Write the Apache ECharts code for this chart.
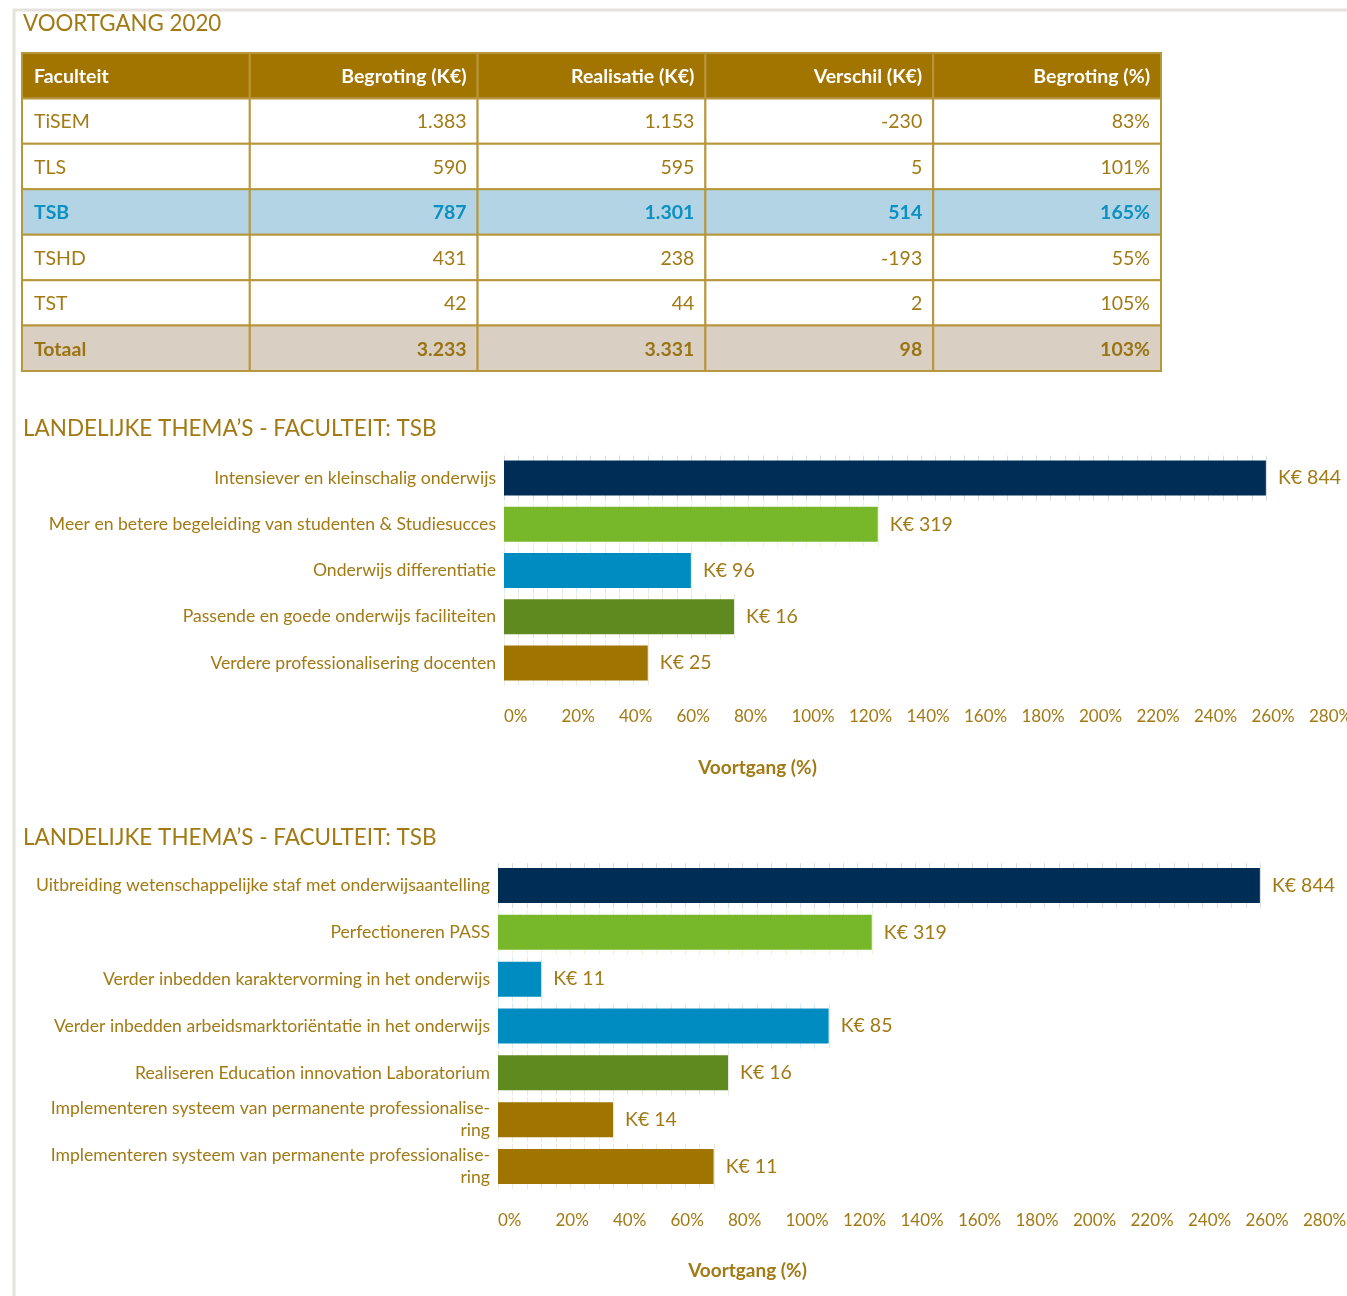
<!DOCTYPE html>
<html>
<head>
<meta charset="utf-8">
<title>Voortgang 2020</title>
<script src="https://cdn.jsdelivr.net/npm/echarts@6/dist/echarts.min.js"></script>
<style>
  html, body { margin: 0; padding: 0; background: #fff; }
  #chart { width: 1347px; height: 1296px; }
</style>
</head>
<body>
<div id="chart"></div>
<script>
// tabel voortgang 2020
const kolommen = ['Faculteit', 'Begroting (K€)', 'Realisatie (K€)', 'Verschil (K€)', 'Begroting (%)'];
const faculteiten = ['TiSEM', 'TLS', 'TSB', 'TSHD', 'TST', 'Totaal'];
const begroting = [1383, 590, 787, 431, 42, 3233];
const realisatie = [1153, 595, 1301, 238, 44, 3331];
const verschil = [-230, 5, 514, -193, 2, 98];
const begrotingPct = [83, 101, 165, 55, 105, 103];

// landelijke thema's (1)
const themas1 = [
  'Intensiever en kleinschalig onderwijs',
  'Meer en betere begeleiding van studenten & Studiesucces',
  'Onderwijs differentiatie',
  'Passende en goede onderwijs faciliteiten',
  'Verdere professionalisering docenten'
];
const voortgang1 = [265, 130, 65, 80, 50];
const bedrag1 = [844, 319, 96, 16, 25];

// landelijke thema's (2)
const themas2 = [
  'Uitbreiding wetenschappelijke staf met onderwijsaantelling',
  'Perfectioneren PASS',
  'Verder inbedden karaktervorming in het onderwijs',
  'Verder inbedden arbeidsmarktoriëntatie in het onderwijs',
  'Realiseren Education innovation Laboratorium',
  'Implementeren systeem van permanente professionalise-\nring',
  'Implementeren systeem van permanente professionalise-\nring'
];
const voortgang2 = [265, 130, 15, 115, 80, 40, 75];
const bedrag2 = [844, 319, 11, 85, 16, 14, 11];

const kleuren1 = ['#002d56', '#76b82a', '#008cc0', '#5f8a1f', '#a07400'];
const kleuren2 = ['#002d56', '#76b82a', '#008cc0', '#008cc0', '#5f8a1f', '#a07400', '#a07400'];

const GOUD = '#a27a14';
const FONT = 'Lato, "Open Sans", sans-serif';
const BALK = 35;

function fmt(n) {
  return String(n).replace(/\B(?=(\d{3})+(?!\d))/g, '.');
}

const rijen = [kolommen].concat(faculteiten.map((f, i) => [
  f, fmt(begroting[i]), fmt(realisatie[i]), fmt(verschil[i]), begrotingPct[i] + '%'
]));
const tabelData = [];
rijen.forEach((rij, r) => rij.forEach((tekst, c) => tabelData.push([c, r, tekst])));

const tsbRij = faculteiten.indexOf('TSB') + 1;
const totaalRij = rijen.length - 1;

function tekenCel(params, api) {
  const col = api.value(0);
  const row = api.value(1);
  const tekst = tabelData[params.dataIndex][2];
  const c = api.coord([col, row]);
  const s = api.size([1, 1]);
  const x = c[0] - s[0] / 2;
  const y = c[1] - s[1] / 2;

  let fill = '#fff', kleur = GOUD, gewicht = 'normal', grootte = 19.5;
  if (row === 0) { fill = '#a27500'; kleur = '#fff'; gewicht = 'bold'; grootte = 19.5; }
  else if (row === tsbRij) { fill = '#b3d4e4'; kleur = '#0a90c2'; gewicht = 'bold'; }
  else if (row === totaalRij) { fill = '#d9cfc3'; kleur = '#9a7413'; gewicht = 'bold'; }

  return {
    type: 'group',
    children: [
      {
        type: 'rect',
        shape: { x: x, y: y, width: s[0], height: s[1] },
        style: { fill: fill, stroke: '#b8963c', lineWidth: 2 }
      },
      {
        type: 'text',
        style: {
          text: tekst,
          x: col === 0 ? x + 12 : x + s[0] - 11,
          y: c[1] + 1,
          align: col === 0 ? 'left' : 'right',
          verticalAlign: 'middle',
          fill: kleur,
          fontSize: grootte,
          fontWeight: gewicht,
          fontFamily: FONT
        }
      }
    ]
  };
}

// fijne rasterlijntjes (elke 5%) alleen ter hoogte van de balk
function rasterRenderer(kleuren) {
  return function (params, api) {
    const v = api.value(0);
    const cat = api.value(1);
    const midden = api.coord([0, cat])[1];
    const y1 = midden - BALK / 2 - 5;
    const y2 = midden + BALK / 2 + 5;
    const stappen = [];
    for (let t = 0; t < v; t += 5) stappen.push(t);
    stappen.push(v);
    const lijnen = stappen.map(t => {
      const x = Math.round(api.coord([t, cat])[0]) + 0.5;
      return {
        type: 'line',
        shape: { x1: x, y1: y1, x2: x, y2: y2 },
        style: { stroke: kleuren[params.dataIndex], opacity: 0.16, lineWidth: 1 }
      };
    });
    return { type: 'group', children: lijnen };
  };
}

function waardeAs(gridIndex, nameGap, nameShift) {
  return {
    type: 'value',
    gridIndex: gridIndex,
    min: 0,
    max: 280,
    interval: 20,
    axisLine: { show: false },
    axisTick: { show: false },
    axisLabel: {
      formatter: '{value}%',
      color: GOUD,
      fontSize: 17,
      align: 'left',
      margin: 22
    },
    splitLine: { show: false },
    name: 'Voortgang (%)',
    nameLocation: 'middle',
    nameGap: nameGap,
    nameTextStyle: {
      color: GOUD,
      fontSize: 19,
      fontWeight: 'bold',
      padding: [0, nameShift, 0, 0]
    }
  };
}

function categorieAs(gridIndex, data) {
  return {
    type: 'category',
    gridIndex: gridIndex,
    data: data,
    inverse: true,
    axisLine: { show: false },
    axisTick: { show: false },
    axisLabel: { color: GOUD, fontSize: 17.6, margin: 8, lineHeight: 22, align: 'right' }
  };
}

function rasterSerie(index, waarden, kleuren) {
  return {
    type: 'custom',
    xAxisIndex: index,
    yAxisIndex: index,
    silent: true,
    z: 1,
    renderItem: rasterRenderer(kleuren),
    data: waarden.map((v, i) => [v, i])
  };
}

function barSerie(index, waarden, bedragen, kleuren) {
  return {
    type: 'bar',
    xAxisIndex: index,
    yAxisIndex: index,
    barWidth: BALK,
    z: 2,
    data: waarden.map((v, i) => ({ value: v, itemStyle: { color: kleuren[i] } })),
    label: {
      show: true,
      position: 'right',
      distance: 12,
      color: GOUD,
      fontSize: 19.5,
      formatter: p => 'K€ ' + bedragen[p.dataIndex]
    }
  };
}

const chart = echarts.init(document.getElementById('chart'));
chart.setOption({
  animation: false,
  textStyle: { fontFamily: FONT },
  graphic: [
    {
      type: 'rect',
      shape: { x: 14, y: 10, width: 1400, height: 1400 },
      style: { fill: 'none', stroke: '#e6e3de', lineWidth: 3 },
      silent: true
    }
  ],
  title: [
    { text: 'VOORTGANG 2020', left: 23, top: 13, padding: 0, textStyle: { color: GOUD, fontSize: 22.3, fontWeight: 'normal' } },
    { text: 'LANDELIJKE THEMA’S - FACULTEIT: TSB', left: 23, top: 417, padding: 0, textStyle: { color: GOUD, fontSize: 22.5, fontWeight: 'normal' } },
    { text: 'LANDELIJKE THEMA’S - FACULTEIT: TSB', left: 23, top: 826, padding: 0, textStyle: { color: GOUD, fontSize: 22.5, fontWeight: 'normal' } }
  ],
  grid: [
    { left: 22, top: 53, width: 1139, height: 318, outerBoundsMode: 'none' },
    { left: 504, top: 455, width: 805, height: 231, outerBoundsMode: 'none' },
    { left: 498, top: 862, width: 805, height: 328, outerBoundsMode: 'none' }
  ],
  xAxis: [
    { type: 'category', gridIndex: 0, data: kolommen.map((k, i) => i), show: false },
    waardeAs(1, 72, 298),
    waardeAs(2, 71, 306)
  ],
  yAxis: [
    { type: 'category', gridIndex: 0, data: rijen.map((r, i) => i), inverse: true, show: false },
    categorieAs(1, themas1),
    categorieAs(2, themas2)
  ],
  series: [
    {
      type: 'custom',
      xAxisIndex: 0,
      yAxisIndex: 0,
      renderItem: tekenCel,
      data: tabelData.map(d => [d[0], d[1]])
    },
    rasterSerie(1, voortgang1, kleuren1),
    barSerie(1, voortgang1, bedrag1, kleuren1),
    rasterSerie(2, voortgang2, kleuren2),
    barSerie(2, voortgang2, bedrag2, kleuren2)
  ]
});
</script>
</body>
</html>
